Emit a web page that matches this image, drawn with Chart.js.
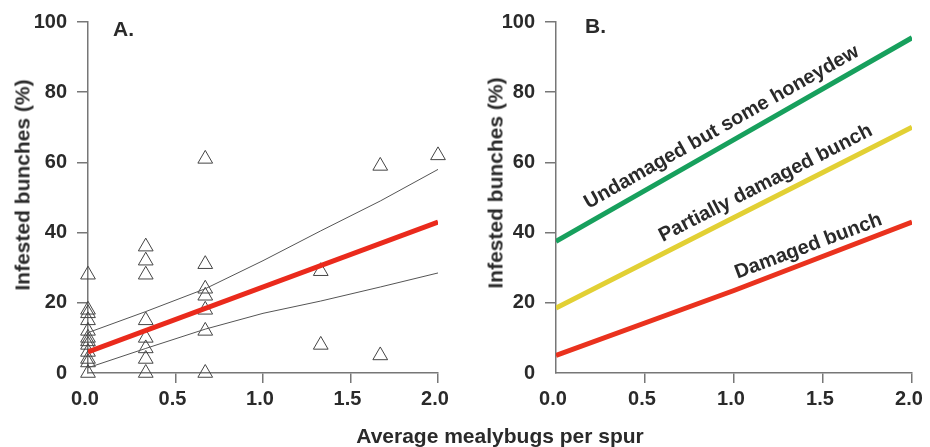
<!DOCTYPE html>
<html lang="en">
<head>
    <meta charset="UTF-8">
    <title>Infested bunches vs mealybugs per spur</title>
    <script src="https://cdn.jsdelivr.net/npm/chart.js"></script>
    <style>
        body {
            margin: 0;
            background: #fff;
            font-family: "Liberation Sans", Arial, sans-serif;
            color: #2a2a2a;
        }

        #page {
            position: relative;
            width: 930px;
            height: 447px;
            overflow: hidden;
        }

        .panel {
            position: absolute;
            top: 0;
            width: 465px;
            height: 447px;
        }

        .txt {
            position: absolute;
            font-weight: bold;
            white-space: nowrap;
            line-height: 1;
            transform-origin: center center;
        }
    </style>
</head>
<body>
    <div id="page">
        <div class="panel" style="left:0"><canvas id="chartA"></canvas></div>
        <div class="panel" style="left:465px"><canvas id="chartB"></canvas></div>

        <div class="txt" style="left:113px;top:18px;font-size:21px">A.</div>
        <div class="txt" style="left:585px;top:15px;font-size:21px">B.</div>

        <div class="txt" style="left:22px;top:185px;font-size:21px;transform:translate(-50%,-50%) rotate(-90deg)">Infested bunches (%)</div>
        <div class="txt" style="left:495px;top:183px;font-size:21px;transform:translate(-50%,-50%) rotate(-90deg)">Infested bunches (%)</div>

        <div class="txt" style="left:500px;top:435px;font-size:21px;transform:translate(-50%,-50%)">Average mealybugs per spur</div>

        <div class="txt" style="left:721px;top:126px;font-size:20px;transform:translate(-50%,-50%) rotate(-29.5deg)">Undamaged but some honeydew</div>
        <div class="txt" style="left:765px;top:182px;font-size:20px;transform:translate(-50%,-50%) rotate(-27deg)">Partially damaged bunch</div>
        <div class="txt" style="left:808px;top:245px;font-size:20px;transform:translate(-50%,-50%) rotate(-20.5deg)">Damaged bunch</div>
    </div>

    <script>
        // Tick labels
        const xTicks = [0, 0.5, 1.0, 1.5, 2.0];
        const yTicks = [0, 20, 40, 60, 80, 100];

        // Panel A: observed plots (x = mealybugs per spur, y = % infested bunches)
        const obsX = [0, 0.33, 0.67, 1.33, 1.67, 2.0];
        const obsY = [
            [28, 18, 17, 15, 12, 10, 9, 8, 6, 4, 3, 0],
            [36, 32, 28, 15, 10, 7, 4, 0],
            [61, 31, 24, 22, 18, 12, 0],
            [29, 8],
            [59, 5],
            [62]
        ];

        // Panel A: fitted line and confidence band
        const fitX = [0, 2.0];
        const fitY = [6, 43];
        const bandX = [0, 0.33, 0.67, 1.0, 1.33, 1.67, 2.0];
        const bandUpper = [11.5, 17.5, 24, 32, 40.5, 49, 58];
        const bandLower = [1.5, 7, 12.5, 17, 20.5, 24.5, 28.5];

        // Panel B: fitted curves per damage class
        const curveX = [0, 1.0, 2.0];
        const undamaged = [37.5, 66.5, 95.5];
        const partial = [18.5, 44.3, 70];
        const damaged = [5, 23.5, 43];

        const toPoints = (xs, ys) => xs.map((x, i) => ({ x: x, y: ys[i] }));
        const scatterPoints = [];
        obsX.forEach((x, i) => obsY[i].forEach(y => scatterPoints.push({ x: x, y: y })));

        const textColor = '#2a2a2a';
        const axisColor = '#777';

        function makeScales(yWidth) {
            const grid = {
                drawOnChartArea: false,
                drawTicks: true,
                tickLength: 11,
                lineWidth: 1.5,
                color: ctx => (ctx.tick && ctx.tick.value === 0) ? 'rgba(0,0,0,0)' : axisColor
            };
            return {
                x: {
                    type: 'linear',
                    min: 0,
                    max: 2,
                    afterBuildTicks: s => { s.ticks = xTicks.map(v => ({ value: v })); },
                    afterFit: s => { s.height = 74; },
                    ticks: {
                        callback: v => v.toFixed(1),
                        font: { family: '"Liberation Sans", Arial, sans-serif', size: 20, weight: 'bold' },
                        color: textColor,
                        padding: 4,
                        labelOffset: -3,
                        maxRotation: 0
                    },
                    grid: Object.assign({}, grid, { tickLength: 10 }),
                    border: { display: true, color: axisColor, width: 1.5 }
                },
                y: {
                    type: 'linear',
                    min: 0,
                    max: 100,
                    afterBuildTicks: s => { s.ticks = yTicks.map(v => ({ value: v })); },
                    afterFit: s => { s.width = yWidth; },
                    ticks: {
                        font: { family: '"Liberation Sans", Arial, sans-serif', size: 20, weight: 'bold' },
                        color: textColor,
                        padding: 10
                    },
                    grid: grid,
                    border: { display: true, color: axisColor, width: 1.5 }
                }
            };
        }

        const common = {
            responsive: true,
            maintainAspectRatio: false,
            animation: false,
            events: [],
            plugins: { legend: { display: false }, tooltip: { enabled: false } }
        };

        const lineSet = (data, color, width, order) => ({
            type: 'line',
            data: data,
            borderColor: color,
            borderWidth: width,
            pointRadius: 0,
            fill: false,
            tension: 0,
            order: order
        });

        new Chart(document.getElementById('chartA'), {
            type: 'scatter',
            data: {
                datasets: [
                    lineSet(toPoints(fitX, fitY), '#ea2a1c', 5, 0),
                    lineSet(toPoints(bandX, bandUpper), '#555', 1, 1),
                    lineSet(toPoints(bandX, bandLower), '#555', 1, 1),
                    {
                        data: scatterPoints,
                        pointStyle: 'triangle',
                        pointRadius: 8.5,
                        borderColor: '#444',
                        borderWidth: 1,
                        backgroundColor: 'rgba(0,0,0,0)',
                        clip: false,
                        order: 2
                    }
                ]
            },
            options: Object.assign({}, common, {
                layout: { padding: { left: 0, right: 27, top: 20, bottom: 0 } },
                scales: makeScales(88)
            })
        });

        new Chart(document.getElementById('chartB'), {
            type: 'line',
            data: {
                datasets: [
                    lineSet(toPoints(curveX, undamaged), '#17a05d', 5, 0),
                    lineSet(toPoints(curveX, partial), '#e2d034', 5, 0),
                    lineSet(toPoints(curveX, damaged), '#ea321e', 5, 0)
                ]
            },
            options: Object.assign({}, common, {
                layout: { padding: { left: 0, right: 18, top: 16, bottom: 0 } },
                scales: makeScales(91)
            })
        });
    </script>
</body>
</html>
